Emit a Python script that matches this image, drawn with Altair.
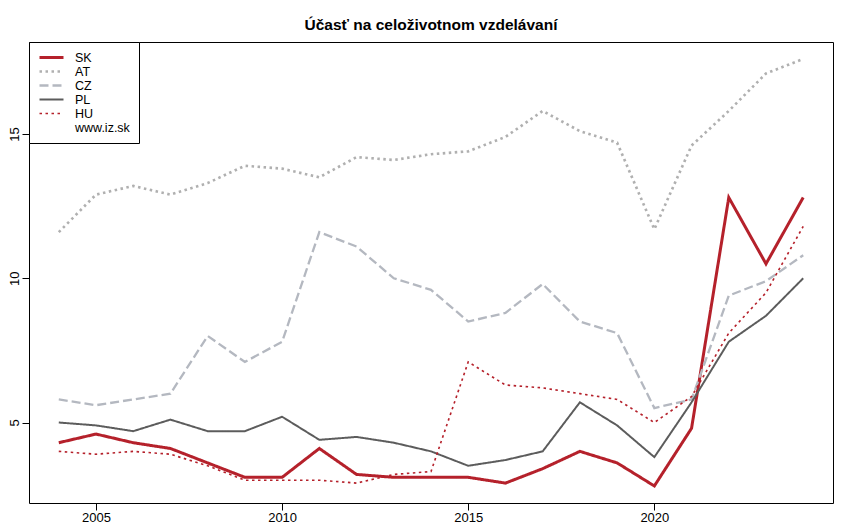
import altair as alt
import pandas as pd

years = list(range(2004, 2025))
series_names = ["SK", "AT", "CZ", "PL", "HU"]
legend_entries = ["SK", "AT", "CZ", "PL", "HU", "www.iz.sk"]

sk = [4.3, 4.6, 4.3, 4.1, 3.6, 3.1, 3.1, 4.1, 3.2, 3.1, 3.1, 3.1, 2.9, 3.4, 4.0, 3.6, 2.8, 4.8, 12.8, 10.5, 12.8]
at = [11.6, 12.9, 13.2, 12.9, 13.3, 13.9, 13.8, 13.5, 14.2, 14.1, 14.3, 14.4, 14.9, 15.8, 15.1, 14.7, 11.7, 14.6, 15.8, 17.1, 17.6]
cz = [5.8, 5.6, 5.8, 6.0, 8.0, 7.1, 7.8, 11.6, 11.1, 10.0, 9.6, 8.5, 8.8, 9.8, 8.5, 8.1, 5.5, 5.8, 9.4, 9.9, 10.8]
pl = [5.0, 4.9, 4.7, 5.1, 4.7, 4.7, 5.2, 4.4, 4.5, 4.3, 4.0, 3.5, 3.7, 4.0, 5.7, 4.9, 3.8, 5.7, 7.8, 8.7, 10.0]
hu = [4.0, 3.9, 4.0, 3.9, 3.5, 3.0, 3.0, 3.0, 2.9, 3.2, 3.3, 7.1, 6.3, 6.2, 6.0, 5.8, 5.0, 5.9, 8.1, 9.5, 11.8]

x_ticks = [2005, 2010, 2015, 2020]
y_ticks = [5, 10, 15]

colors = ["#B5212B", "#B0B0B0", "#B4B8C0", "#5C5C5C", "#B5212B", "transparent"]
dashes = [[1, 0], [2.5, 3.5], [9, 4], [1, 0], [2.5, 3.5], [1, 0]]
widths = [3, 1.3, 1.3, 1.3, 1.4, 0]

rows = []
for name, vals in zip(series_names, [sk, at, cz, pl, hu]):
    for yr, v in zip(years, vals):
        rows.append({"year": yr, "value": v, "series": name})
df = pd.DataFrame(rows)

font = "Liberation Sans"

chart = alt.Chart(df).mark_line().encode(
    x=alt.X("year:Q", scale=alt.Scale(domain=[2003.2, 2024.8], nice=False, zero=False),
            axis=alt.Axis(values=x_ticks, format="d", title=None, grid=False, domain=False,
                          tickSize=7, tickColor="black", labelColor="black",
                          labelFontSize=13, labelFont=font, labelPadding=1)),
    y=alt.Y("value:Q", scale=alt.Scale(domain=[2.21, 18.19], nice=False, zero=False),
            axis=alt.Axis(values=y_ticks, title=None, grid=False, domain=False,
                          tickSize=7, tickColor="black", labelColor="black",
                          labelFontSize=13, labelFont=font, labelAngle=270, labelPadding=1)),
    color=alt.Color("series:N", scale=alt.Scale(domain=legend_entries, range=colors),
                    legend=alt.Legend(title=None)),
    strokeDash=alt.StrokeDash("series:N", scale=alt.Scale(domain=legend_entries, range=dashes),
                              legend=alt.Legend(title=None)),
    strokeWidth=alt.StrokeWidth("series:N", scale=alt.Scale(domain=legend_entries, range=widths),
                                legend=alt.Legend(title=None)),
).properties(
    width=804,
    height=461,
    title=alt.Title("Účasť na celoživotnom vzdelávaní", font=font, fontSize=15.5,
                    fontWeight="bold", color="black", anchor="middle", offset=8),
    autosize=alt.AutoSizeParams(type="none"),
    padding={"left": 21, "top": 34, "right": 9, "bottom": 21},
).configure_view(
    stroke="black", strokeWidth=1
).configure_legend(
    orient="top-left", offset=0, padding=9, strokeColor="black", fillColor="white",
    symbolType="stroke", symbolSize=576, clipHeight=13, rowPadding=1,
    labelFont=font, labelFontSize=12.5, labelColor="black", labelOffset=10,
    cornerRadius=0
)

chart.save("out.html", embed_options={"renderer": "svg", "actions": False})
